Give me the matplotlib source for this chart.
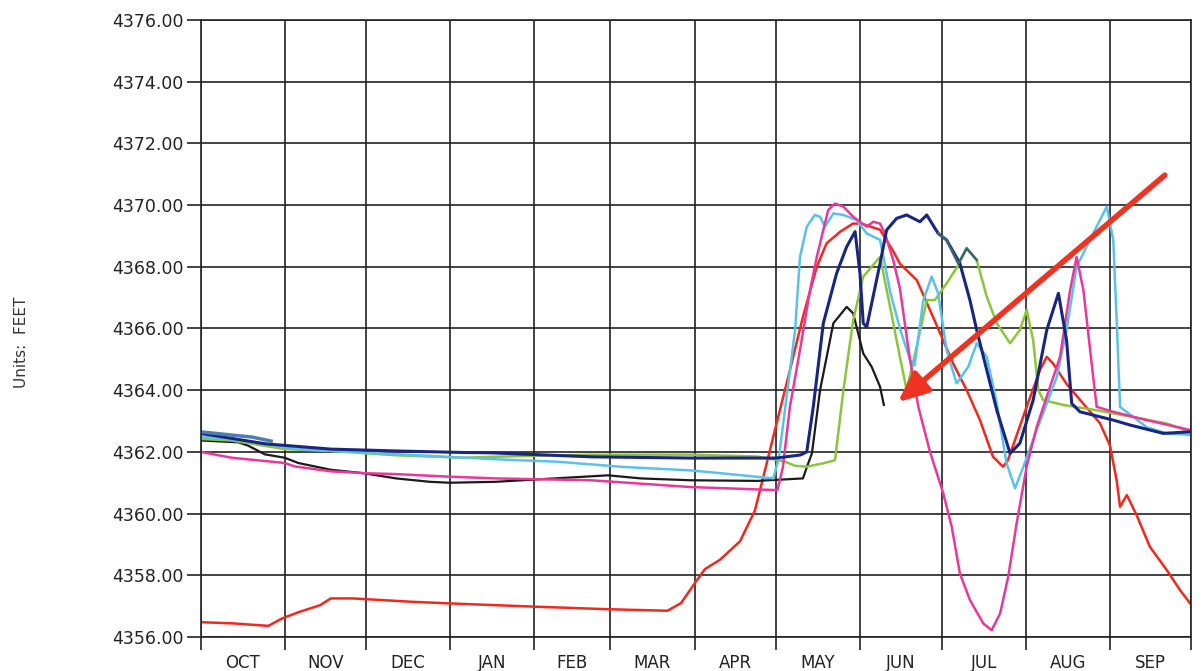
import matplotlib.pyplot as plt
import matplotlib.ticker as mtick
import numpy as np

# water year axis, days counted from 1 Oct
months = ['OCT', 'NOV', 'DEC', 'JAN', 'FEB', 'MAR', 'APR', 'MAY', 'JUN', 'JUL', 'AUG', 'SEP']
month_days = [31, 30, 31, 31, 28, 31, 30, 31, 30, 31, 31, 30]
y_ticks = [4356, 4358, 4360, 4362, 4364, 4366, 4368, 4370, 4372, 4374, 4376]

# series (day, elevation in feet)
red_days = [0, 12, 25, 30, 36, 44, 48, 56, 78, 97, 124, 150, 172, 177, 182.5, 185.8, 191.3, 198.7,
            204.2, 207.9, 212.2, 217.1, 221.9, 227.0, 230.6, 235.5, 240.3, 243.5, 250.3, 255.2, 257.6,
            263.8, 266.2, 273.0, 277.2, 282.2, 287.1, 291.9, 295.6, 297.4, 304.3, 309.2, 311.7, 314.0,
            319.0, 325.0, 331.3, 335.0, 337.5, 338.7, 341.2, 344.8, 349.7, 355.9, 360.8, 364.5]
red_vals = [4356.48, 4356.44, 4356.36, 4356.6, 4356.8, 4357.03, 4357.25, 4357.25, 4357.14, 4357.07,
            4356.98, 4356.9, 4356.85, 4357.1, 4357.8, 4358.2, 4358.5, 4359.1, 4360.1, 4361.4, 4362.93,
            4364.65, 4366.38, 4368.0, 4368.76, 4369.13, 4369.4, 4369.4, 4369.2, 4368.5, 4368.1,
            4367.57, 4367.1, 4365.73, 4364.87, 4364.0, 4363.03, 4361.84, 4361.52, 4361.73, 4363.46,
            4364.65, 4365.08, 4364.87, 4364.2, 4363.58, 4362.93, 4362.2, 4361.05, 4360.22, 4360.6,
            4359.95, 4358.92, 4358.17, 4357.52, 4357.09]

pink_days = [0, 11.5, 31, 34.6, 48, 60, 72, 90.5, 108.7, 143.8, 162.2, 180.5, 212.5, 214.5, 217.1,
             220.8, 224.5, 227.0, 229.4, 231.2, 233.7, 236.8, 240.4, 245.4, 247.8, 250.3, 252.1, 255.2,
             257.6, 261.3, 264.4, 268.7, 273.6, 276.7, 279.7, 283.4, 288.3, 291.4, 294.5, 297.5, 300.6,
             304.3, 308.0, 316.6, 320.3, 322.7, 325.2, 328.8, 330.1, 336.2, 348.5, 364.5]
pink_vals = [4362.0, 4361.81, 4361.64, 4361.53, 4361.37, 4361.31, 4361.28, 4361.2, 4361.14, 4361.08,
             4360.97, 4360.86, 4360.76, 4361.5, 4363.46, 4365.3, 4367.24, 4368.32, 4369.19, 4369.84,
             4370.05, 4369.95, 4369.62, 4369.3, 4369.46, 4369.4, 4369.08, 4368.2, 4367.3, 4365.0,
             4363.46, 4362.0, 4360.65, 4359.57, 4358.06, 4357.2, 4356.44, 4356.22, 4356.76, 4357.95,
             4359.68, 4361.52, 4362.81, 4365.08, 4367.24, 4368.32, 4367.24, 4364.43, 4363.46, 4363.3,
             4363.03, 4362.71]

cyan_days = [0, 12, 23.7, 36, 60, 84.5, 108.7, 131.7, 156, 180.5, 192.7, 211.0, 213.0, 215.9, 219.0,
             220.8, 223.3, 226.3, 228.2, 230.0, 233.1, 236.8, 241.7, 245.4, 250.3, 254.0, 257.6, 261.3,
             263.0, 266.2, 269.3, 271.7, 274.8, 278.5, 282.8, 285.9, 289.6, 293.3, 296.9, 300.0, 303.1,
             308.0, 315.4, 319.0, 322.7, 328.8, 333.8, 336.2, 337.5, 338.7, 348.5, 355.9, 364.5]
cyan_vals = [4362.5, 4362.4, 4362.26, 4362.09, 4361.98, 4361.87, 4361.76, 4361.68, 4361.51, 4361.4,
             4361.3, 4361.14, 4361.8, 4363.79, 4365.95, 4368.32, 4369.3, 4369.68, 4369.62, 4369.3,
             4369.73, 4369.68, 4369.51, 4369.08, 4368.87, 4367.2, 4366.0, 4365.0, 4364.8, 4366.9,
             4367.68, 4367.14, 4365.3, 4364.22, 4364.76, 4365.52, 4365.08, 4363.57, 4361.63, 4360.82,
             4361.52, 4362.7, 4364.43, 4365.95, 4368.0, 4369.08, 4369.95, 4368.87, 4366.17, 4363.46,
             4362.8, 4362.6, 4362.55]

navy_days = [0, 24, 48, 72, 97, 107, 144, 180.5, 212, 221, 223.3, 225.7, 229.4, 234.3, 238.0, 241.1,
             242.9, 244.1, 245.4, 247.2, 250.3, 252.7, 256.4, 260.1, 265.0, 267.5, 271.7, 274.8, 279.7,
             283.4, 285.9, 289.6, 293.3, 298.2, 301.8, 306.7, 311.7, 316.0, 319.0, 320.9, 323.9, 336.2,
             342.4, 354.6, 364.5]
navy_vals = [4362.6, 4362.26, 4362.09, 4362.03, 4361.98, 4361.97, 4361.84, 4361.8, 4361.8, 4361.9,
             4362.0, 4363.46, 4366.17, 4367.79, 4368.65, 4369.14, 4367.79, 4366.17, 4366.05, 4366.81,
             4368.11, 4369.19, 4369.57, 4369.68, 4369.46, 4369.68, 4369.08, 4368.87, 4368.11, 4366.92,
             4365.95, 4364.65, 4363.35, 4361.95, 4362.28, 4363.68, 4365.95, 4367.14, 4365.62, 4363.57,
             4363.3, 4363.03, 4362.87, 4362.6, 4362.65]

black_days = [0, 14, 17.6, 23.7, 31, 36, 48, 60, 72, 84.5, 91.7, 108.7, 150.1, 162.2, 180.5, 205,
              221.9, 223.3, 225.2, 228.2, 233.1, 238.0, 240.4, 244.1, 247.2, 250.3, 251.7]
black_vals = [4362.37, 4362.31, 4362.2, 4361.92, 4361.81, 4361.64, 4361.42, 4361.31, 4361.14, 4361.03,
              4361.0, 4361.03, 4361.24, 4361.14, 4361.08, 4361.06, 4361.14, 4361.5, 4361.95, 4364.0,
              4366.17, 4366.7, 4366.49, 4365.19, 4364.76, 4364.11, 4363.52]

green_days = [0, 11.5, 31, 48, 72, 96.6, 107, 143.8, 180.5, 205, 214.7, 219, 223.3, 229.4, 233.7,
              236.8, 240.4, 244.1, 250.3, 254.0, 257.6, 260.1, 263.8, 267.5, 270.5, 274.8, 279.1, 282.2,
              285.9, 289.6, 293.3, 298.2, 301.8, 304.3, 306.7, 308.6, 310.4, 317.8, 330.1, 355.9, 364.5]
green_vals = [4362.42, 4362.37, 4362.09, 4362.03, 4361.89, 4361.81, 4361.84, 4361.91, 4361.91,
              4361.85, 4361.7, 4361.55, 4361.52, 4361.63, 4361.73, 4364.0, 4366.27, 4367.68, 4368.32,
              4366.7, 4365.08, 4364.0, 4365.41, 4366.92, 4366.92, 4367.46, 4368.05, 4368.6, 4368.22,
              4367.03, 4366.17, 4365.52, 4365.95, 4366.6, 4365.62, 4364.0, 4363.68, 4363.52, 4363.35,
              4362.92, 4362.65]

slate_days = [271.7, 274.8, 279.1, 282.2, 285.9]
slate_vals = [4369.08, 4368.87, 4368.1, 4368.6, 4368.22]

steel_days = [0, 11, 19, 26]
steel_vals = [4362.65, 4362.55, 4362.48, 4362.35]

# red arrow drawn on the chart (tail, head)
arrow_tail = (355.2, 4370.97)
arrow_head = (256.9, 4363.61)

month_edges = np.concatenate([[0], np.cumsum(month_days)])
month_mids = (month_edges[:-1] + month_edges[1:]) / 2

fig = plt.figure(figsize=(12.03, 6.71), dpi=100)
ax = fig.add_axes([0.1667, 0.0507, 0.8237, 0.9195])

ax.plot(red_days, red_vals, color='#f0281e', lw=1.8)
ax.plot(black_days, black_vals, color='#1a1a1a', lw=1.6)
ax.plot(green_days, green_vals, color='#8cc43c', lw=1.8)
ax.plot(cyan_days, cyan_vals, color='#5cc0ec', lw=1.8)
ax.plot(pink_days, pink_vals, color='#e8389a', lw=1.8)
ax.plot(navy_days, navy_vals, color='#1a2580', lw=2.2)
ax.plot(slate_days, slate_vals, color='#3d6470', lw=1.8)
ax.plot(steel_days, steel_vals, color='#4a7fb0', lw=2.5)

ax.annotate('', xy=arrow_head, xytext=arrow_tail,
            arrowprops=dict(arrowstyle='-|>,head_length=0.9,head_width=0.4', color='#ee3322',
                            lw=4, mutation_scale=20, shrinkA=0, shrinkB=0))

ax.set_xlim(0, 365)
ax.set_ylim(4356, 4376)

# grid at month boundaries and every 2 ft
ax.set_yticks(y_ticks)
ax.yaxis.set_major_formatter(mtick.FormatStrFormatter('%.2f'))
ax.set_xticks(month_edges)
ax.set_xticklabels([])
ax.set_xticks(month_mids, minor=True)
ax.set_xticklabels(months, minor=True)
ax.grid(True, which='major', color='#222222', lw=1.2)
ax.tick_params(axis='y', which='major', length=10, width=1.2, pad=2, labelsize=12.5, colors='#222222')
ax.tick_params(axis='x', which='major', length=9, width=1.2, colors='#222222')
ax.tick_params(axis='x', which='minor', length=0, pad=12, labelsize=12, colors='#222222')
for s in ax.spines.values():
    s.set_linewidth(1.2)
    s.set_color('#222222')

fig.text(0.018, 0.49, 'Units:  FEET', rotation=90, va='center', ha='center', fontsize=11, color='#333333')

plt.savefig('out.png', dpi=100)
